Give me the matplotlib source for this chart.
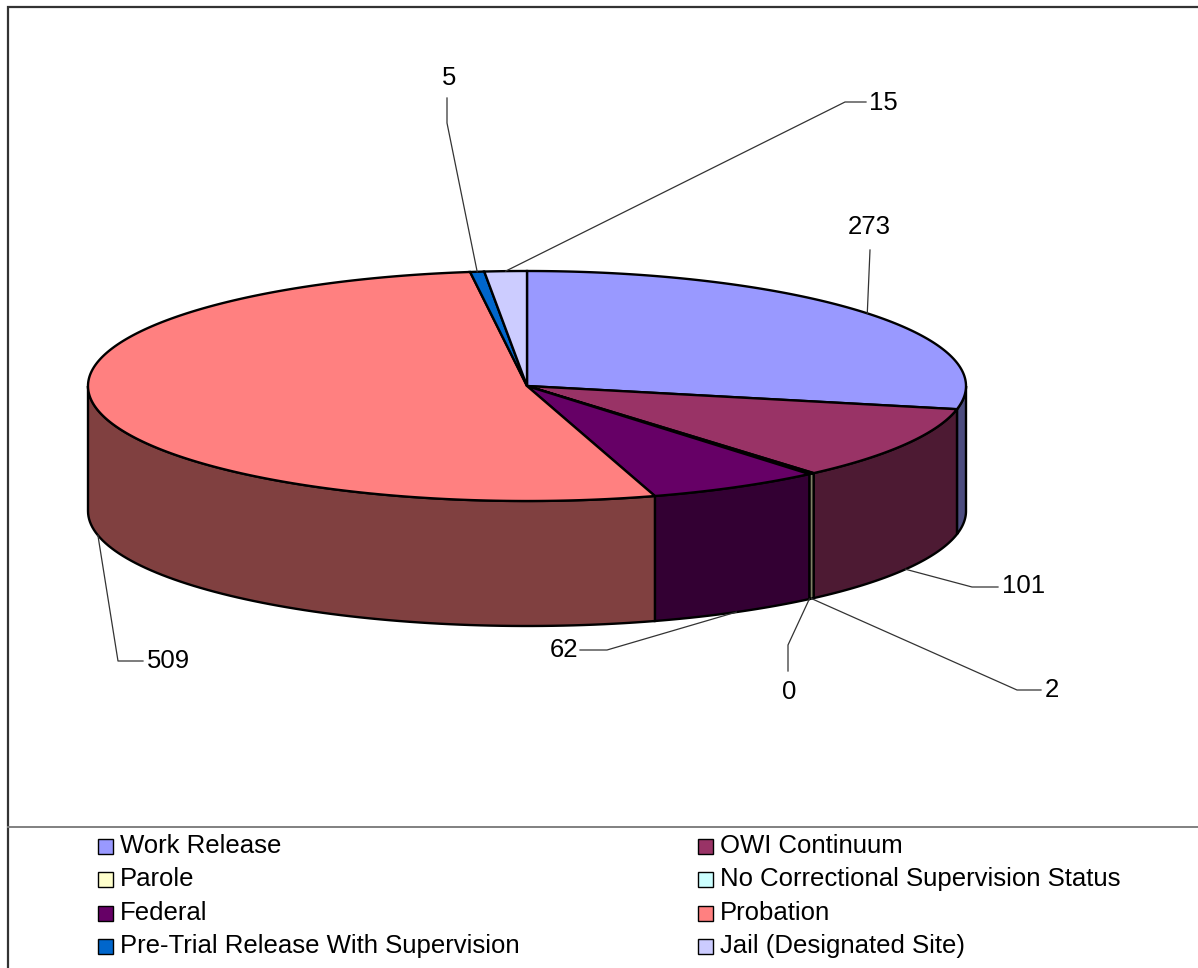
import numpy as np
import matplotlib.pyplot as plt
from matplotlib.patches import Polygon, Rectangle

plt.rcParams['font.family'] = ['Liberation Sans', 'DejaVu Sans']

# Data
categories = ['Work Release', 'OWI Continuum', 'Parole',
              'No Correctional Supervision Status', 'Federal', 'Probation',
              'Pre-Trial Release With Supervision', 'Jail (Designated Site)']
values = [273, 101, 2, 0, 62, 509, 5, 15]
colors = ['#9999FF', '#993366', '#FFFFCC', '#CCFFFF',
          '#660066', '#FF8080', '#0066CC', '#CCCCFF']

# Label placement: text position, alignment, leader points after the anchor
label_text_pos = [(869, 227), (1002, 586), (1045, 690), (789, 692),
                  (578, 650), (147, 661), (449, 78), (869, 103)]
label_ha = ['center', 'left', 'left', 'center', 'right', 'left', 'center', 'left']
label_leader = [[(870, 250)],
                [(972, 587), (998, 587)],
                [(1017, 690), (1041, 690)],
                [(788, 645), (788, 671)],
                [(607, 650), (580, 650)],
                [(118, 661), (143, 661)],
                [(447, 123), (447, 98)],
                [(845, 102), (866, 102)]]

# Pie geometry (pixels)
cx, cy = 527, 386
rx, ry = 439, 115
depth = 125


def pt(theta, z=0.0):
    t = np.radians(theta)
    return cx + rx * np.sin(t), cy - ry * np.cos(t) + z


def shade(c, f=0.5):
    r, g, b = [int(c[i:i + 2], 16) for i in (1, 3, 5)]
    return (r * f / 255, g * f / 255, b * f / 255)


fig = plt.figure(figsize=(11.98, 9.68), dpi=100)
ax = fig.add_axes([0, 0, 1, 1])
ax.set_xlim(0, 1198)
ax.set_ylim(968, 0)
ax.axis('off')

total = sum(values)
bounds = np.concatenate([[0], np.cumsum(values)]) / total * 360.0

# Side walls (front half only)
for i, c in enumerate(colors):
    a, b = bounds[i], bounds[i + 1]
    lo, hi = max(a, 90), min(b, 270)
    if hi <= lo:
        continue
    t = np.linspace(lo, hi, 80)
    xt, yt = pt(t)
    xb, yb = pt(t[::-1], depth)
    poly = np.column_stack([np.concatenate([xt, xb]), np.concatenate([yt, yb])])
    ax.add_patch(Polygon(poly, closed=True, facecolor=shade(c),
                         edgecolor='black', linewidth=1.7, zorder=1))

# Top faces
for i, c in enumerate(colors):
    a, b = bounds[i], bounds[i + 1]
    if b - a <= 0:
        continue
    t = np.linspace(a, b, max(int((b - a) * 2), 3))
    xt, yt = pt(t)
    poly = np.column_stack([np.concatenate([[cx], xt]), np.concatenate([[cy], yt])])
    ax.add_patch(Polygon(poly, closed=True, facecolor=c,
                         edgecolor='black', linewidth=1.7, zorder=2))

# Value labels with leader lines
for i, v in enumerate(values):
    mid = (bounds[i] + bounds[i + 1]) / 2
    front = np.cos(np.radians(mid)) < 0
    ax0, ay0 = pt(mid, depth if front else 0)
    xs = [ax0] + [p[0] for p in label_leader[i]]
    ys = [ay0] + [p[1] for p in label_leader[i]]
    ax.plot(xs, ys, color='#333333', linewidth=0.9, zorder=3)
    tx, ty = label_text_pos[i]
    ax.text(tx, ty, str(v), ha=label_ha[i], va='center', fontsize=18.5,
            color='black', zorder=4)

# Chart frame and legend separator
ax.plot([8, 8, 1198], [968, 7, 7], color='#333333', linewidth=1.6,
        solid_joinstyle='miter', zorder=5)
ax.plot([8, 1198], [827, 827], color='#808080', linewidth=1.4, zorder=5)

# Legend
col_x = [98, 698]
row_y = [846, 879, 913, 946]
for i, (name, c) in enumerate(zip(categories, colors)):
    x0 = col_x[i % 2]
    y0 = row_y[i // 2]
    ax.add_patch(Rectangle((x0, y0 - 7.5), 15, 15, facecolor=c,
                           edgecolor='black', linewidth=1.0, zorder=5))
    ax.text(x0 + 22, y0, name, ha='left', va='center', fontsize=18.5,
            color='black', zorder=5)

fig.savefig('out.png', dpi=100)
